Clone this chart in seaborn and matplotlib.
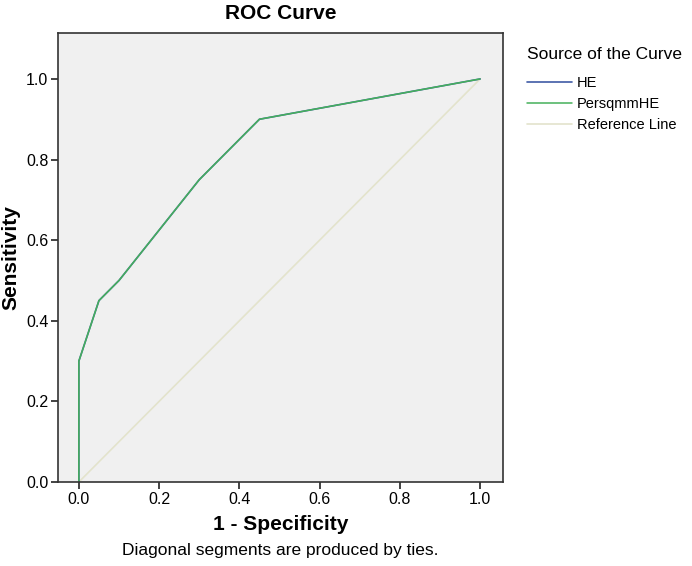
import matplotlib
matplotlib.use("Agg")
import matplotlib.pyplot as plt
import seaborn as sns
import pandas as pd

# Data
fpr_he = [0.0, 0.0, 0.05, 0.10, 0.30, 0.45, 1.0]
tpr_he = [0.0, 0.30, 0.45, 0.50, 0.75, 0.90, 1.0]
fpr_pers = [0.0, 0.0, 0.05, 0.10, 0.30, 0.45, 1.0]
tpr_pers = [0.0, 0.30, 0.45, 0.50, 0.75, 0.90, 1.0]
ref_x = [0.0, 1.0]
ref_y = [0.0, 1.0]
ticks = [0.0, 0.2, 0.4, 0.6, 0.8, 1.0]
tick_labels = ["0.0", "0.2", "0.4", "0.6", "0.8", "1.0"]

sns.set_style("white")
plt.rcParams['font.family'] = ['Liberation Sans', 'DejaVu Sans']
plt.rcParams['text.color'] = "#000000"
plt.rcParams['axes.labelcolor'] = "#000000"
plt.rcParams['xtick.color'] = "#000000"
plt.rcParams['ytick.color'] = "#000000"

fig = plt.figure(figsize=(6.92, 5.66), dpi=100)
ax = fig.add_axes([58/692, 1 - 482/566, (503-58)/692, (482-33)/566])
ax.set_facecolor("#F0F0F0")

df_he = pd.DataFrame({"x": fpr_he, "y": tpr_he})
df_pers = pd.DataFrame({"x": fpr_pers, "y": tpr_pers})
df_ref = pd.DataFrame({"x": ref_x, "y": ref_y})

sns.lineplot(data=df_ref, x="x", y="y", ax=ax, color="#E3E3CC", lw=1.2,
             sort=False, estimator=None, label="Reference Line")
sns.lineplot(data=df_he, x="x", y="y", ax=ax, color="#3F5BA6", lw=1.2,
             sort=False, estimator=None, label="HE")
sns.lineplot(data=df_pers, x="x", y="y", ax=ax, color="#45B05A", lw=1.1,
             sort=False, estimator=None, label="PersqmmHE")

ax.set_xlim(-0.052, 1.057)
ax.set_ylim(0, 1.114)
ax.set_xticks(ticks)
ax.set_xticklabels(tick_labels)
ax.set_yticks(ticks)
ax.set_yticklabels(tick_labels)
ax.tick_params(axis="both", direction="out", length=5, width=1.2, color="#222222",
               labelsize=11.5, pad=2, bottom=True, left=True)
for s in ax.spines.values():
    s.set_color("#333333")
    s.set_linewidth(1.2)

ax.set_xlabel("1 - Specificity", fontsize=15, fontweight="bold", labelpad=6)
ax.set_ylabel("Sensitivity", fontsize=15, fontweight="bold", labelpad=4)
ax.set_title("ROC Curve", fontsize=15, fontweight="bold", pad=10)

fig.text((58+503)/2/692, 1 - 551/566, "Diagonal segments are produced by ties.",
         ha="center", va="center", fontsize=12.5)

handles, labels = ax.get_legend_handles_labels()
order = [labels.index("HE"), labels.index("PersqmmHE"), labels.index("Reference Line")]
leg = ax.legend([handles[i] for i in order], [labels[i] for i in order],
                title="Source of the Curve", loc="upper left",
                bbox_to_anchor=(527/692, 1 - 47/566), bbox_transform=fig.transFigure,
                frameon=False, fontsize=10.5, title_fontsize=12.5,
                handlelength=3.1, handletextpad=0.3, labelspacing=0.5,
                borderaxespad=0, borderpad=0)
leg._legend_box.align = "left"
leg._legend_box.sep = 10

fig.savefig("out.png", dpi=100)
